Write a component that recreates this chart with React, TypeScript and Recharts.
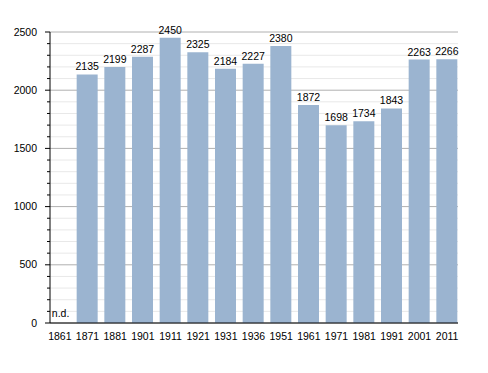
import React from "react";
import { BarChart, Bar, XAxis, YAxis, CartesianGrid, ReferenceDot, LabelList } from "recharts";

const years = ["1861", "1871", "1881", "1901", "1911", "1921", "1931", "1936", "1951", "1961", "1971", "1981", "1991", "2001", "2011"];
const population: (number | null)[] = [null, 2135, 2199, 2287, 2450, 2325, 2184, 2227, 2380, 1872, 1698, 1734, 1843, 2263, 2266];
const majorTicks = [0, 500, 1000, 1500, 2000, 2500];
const minorTicks = [
  100, 200, 300, 400, 600, 700, 800, 900, 1100, 1200, 1300, 1400,
  1600, 1700, 1800, 1900, 2100, 2200, 2300, 2400,
];
const allTicks = [...majorTicks, ...minorTicks].sort((a, b) => a - b);
const missingLabel = "n.d.";

const data = years.map((y, i) => ({ year: y, pop: population[i] }));
const missingYears = years.filter((_, i) => population[i] == null);

const FONT = "'Liberation Sans', Arial, sans-serif";
const FS = 10.5;
const BAR_COLOR = "#9bb4d0";

function YTick(props: any) {
  const { x, y, payload } = props;
  const major = majorTicks.includes(payload.value);
  return (
    <g>
      <line x1={major ? x - 5 : x - 3} x2={x} y1={y} y2={y} stroke="#000" strokeWidth={1} />
      {major && (
        <text x={x - 13} y={y} dy={3.5} textAnchor="end" fontSize={FS} fontFamily={FONT} fill="#000">
          {payload.value}
        </text>
      )}
    </g>
  );
}

function ValueLabel(props: any) {
  const { x, y, width, value } = props;
  if (value == null) return null;
  return (
    <text x={x + width / 2} y={y - 4} textAnchor="middle" fontSize={FS} fontFamily={FONT} fill="#000">
      {value}
    </text>
  );
}

function MissingLabel(props: any) {
  const { viewBox } = props;
  return (
    <text x={viewBox.x - 8} y={viewBox.y - 6} fontSize={FS} fontFamily={FONT} fill="#000">
      {missingLabel}
    </text>
  );
}

export default function App() {
  return (
    <div style={{ position: "absolute", left: 0, top: 0, background: "#fff" }}>
      <BarChart
        width={488}
        height={373}
        data={data}
        margin={{ top: 32, right: 30, bottom: 20, left: 0 }}
        barSize={21}
      >
        <CartesianGrid vertical={false} horizontalValues={minorTicks} stroke="#e8e8e8" />
        <CartesianGrid vertical={false} horizontalValues={majorTicks} stroke="#b0b0b0" />
        <XAxis
          dataKey="year"
          height={30}
          padding={{ left: -4, right: -3 }}
          axisLine={{ stroke: "#000" }}
          tickLine={false}
          tickMargin={4}
          tick={{ fontSize: FS, fontFamily: FONT, fill: "#000" }}
          interval={0}
        />
        <YAxis
          width={50}
          domain={[0, 2500]}
          ticks={allTicks}
          interval={0}
          axisLine={{ stroke: "#000" }}
          tickLine={false}
          tickSize={0}
          tickMargin={0}
          tick={<YTick />}
        />
        <Bar dataKey="pop" fill={BAR_COLOR} isAnimationActive={false}>
          <LabelList dataKey="pop" content={<ValueLabel />} />
        </Bar>
        {missingYears.map((yr) => (
          <ReferenceDot key={yr} x={yr} y={0} r={0} fill="none" stroke="none" label={<MissingLabel />} />
        ))}
      </BarChart>
    </div>
  );
}
